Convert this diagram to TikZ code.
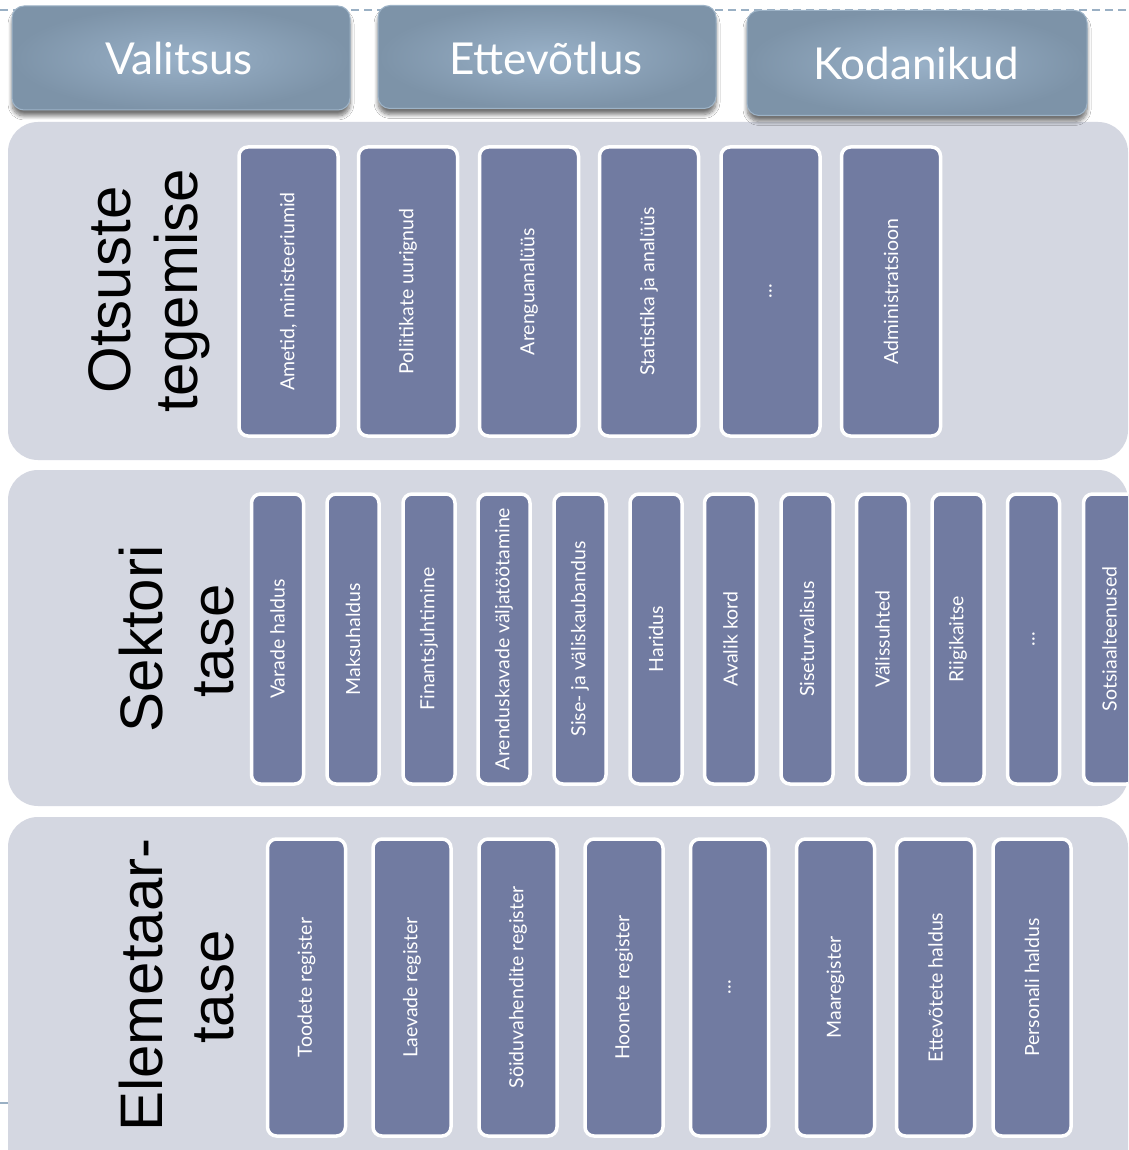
\documentclass[tikz,border=0pt]{standalone}
\usepackage{fontspec}
\setmainfont{Liberation Sans}
\newfontfamily\gillish{Lato}
\usetikzlibrary{shadows.blur}
\definecolor{panelc}{HTML}{D4D7E1}
\definecolor{boxc}{HTML}{717BA1}
\definecolor{hdin}{HTML}{99B1C8}
\definecolor{hdout}{HTML}{7D93A8}
\definecolor{hdline}{HTML}{9DB3C7}
\definecolor{dashc}{HTML}{9AB0C4}
\tikzset{
  panel/.style={fill=panelc, draw=none, rounded corners=30pt},
  hdr/.style={rounded corners=12pt, draw=hdline, line width=1pt,
    inner color=hdin, outer color=hdout,
    blur shadow={shadow xshift=0pt, shadow yshift=-6pt, shadow opacity=55, shadow blur steps=8, shadow blur radius=4pt},
    inner sep=0pt},
  hdrtext/.style={text=white, font=\gillish\fontsize{44}{50}\selectfont, anchor=base, inner sep=0pt},
  cbox/.style={draw=white, line width=3.5pt, fill=boxc, rounded corners=9pt,
    text=white, inner sep=0pt, font=\gillish\fontsize{19.5}{22}\selectfont},
  pa/.style={cbox, minimum width=99pt, minimum height=289pt},
  pb/.style={cbox, minimum width=52pt, minimum height=290pt},
  pc/.style={cbox, minimum width=78pt, minimum height=297pt},
  lab/.style={font=\fontsize{60}{66}\selectfont, text=black, inner sep=0pt, anchor=base, rotate=90},
}
\begin{document}
\begin{tikzpicture}[x=1pt,y=-1pt]
\useasboundingbox (0,0) rectangle (1128,1150);
\clip (0,0) rectangle (1128,1150);
\fill[white] (0,0) rectangle (1128,1150);
% dashed guide lines
\draw[dashc, line width=1.2pt, dash pattern=on 8pt off 5pt] (0,10) -- (1128,10);
\draw[dashc, line width=1.2pt] (0,1103) -- (8,1103);
% panels
\path[panel] (8,122) rectangle (1128,460);
\path[panel] (8,470) rectangle (1128,806);
\path[panel] (8,817) rectangle (1128,1180);
% header boxes
\node[hdr, minimum width=338pt, minimum height=104pt] (h1) at (181,58) {};
\node[hdrtext] (h1t) at (179,75) {Valitsus};
\node[hdr, minimum width=338pt, minimum height=103pt] (h2) at (547,57) {};
\node[hdrtext] (h2t) at (546,75) {Ettevõtlus};
\node[hdr, minimum width=340pt, minimum height=105pt] (h3) at (917,63) {};
\node[hdrtext] (h3t) at (916,80) {Kodanikud};
% left labels
\node[lab] (l1a) at (130,290) {Otsuste};
\node[lab] (l1b) at (197,291) {tegemise};
\node[lab] (l2a) at (162,639) {Sektori};
\node[lab] (l2b) at (233,641) {tase};
\node[lab] (l3a) at (162,985) {Elemetaar-};
\node[lab] (l3b) at (233,987) {tase};
% panel 1 boxes
\node[pa] (a1) at (288.5,291.5) {\rotatebox{90}{Ametid, ministeeriumid}};
\node[pa] (a2) at (408,291.5) {\rotatebox{90}{Poliitikate uurignud}};
\node[pa] (a3) at (529,291.5) {\rotatebox{90}{Arenguanalüüs}};
\node[pa] (a4) at (649,291.5) {\rotatebox{90}{Statistika ja analüüs}};
\node[pa] (a5) at (770.5,291.5) {\rotatebox{90}{…}};
\node[pa] (a6) at (891,291.5) {\rotatebox{90}{Administratsioon}};
% panel 2 boxes
\node[pb] (b1) at (277.5,639) {\rotatebox{90}{Varade haldus}};
\node[pb] (b2) at (353,639) {\rotatebox{90}{Maksuhaldus}};
\node[pb] (b3) at (429,639) {\rotatebox{90}{Finantsjuhtimine}};
\node[pb] (b4) at (504,639) {\rotatebox{90}{Arenduskavade väljatöötamine}};
\node[pb] (b5) at (580,639) {\rotatebox{90}{Sise- ja väliskaubandus}};
\node[pb] (b6) at (656,639) {\rotatebox{90}{Haridus}};
\node[pb] (b7) at (730.5,639) {\rotatebox{90}{Avalik kord}};
\node[pb] (b8) at (807,639) {\rotatebox{90}{Siseturvalisus}};
\node[pb] (b9) at (882.5,639) {\rotatebox{90}{Välissuhted}};
\node[pb] (b10) at (958,639) {\rotatebox{90}{Riigikaitse}};
\node[pb] (b11) at (1033.5,639) {\rotatebox{90}{…}};
\node[pb] (b12) at (1109.5,639) {\rotatebox{90}{Sotsiaalteenused}};
% panel 3 boxes
\node[pc] (c1) at (306.5,987.5) {\rotatebox{90}{Toodete register}};
\node[pc] (c2) at (412,987.5) {\rotatebox{90}{Laevade register}};
\node[pc] (c3) at (518,987.5) {\rotatebox{90}{Söiduvahendite register}};
\node[pc] (c4) at (624,987.5) {\rotatebox{90}{Hoonete register}};
\node[pc] (c5) at (729.5,987.5) {\rotatebox{90}{…}};
\node[pc] (c6) at (835.5,987.5) {\rotatebox{90}{Maaregister}};
\node[pc] (c7) at (935.5,987.5) {\rotatebox{90}{Ettevõtete haldus}};
\node[pc] (c8) at (1032,987.5) {\rotatebox{90}{Personali haldus}};
\end{tikzpicture}
\end{document}
